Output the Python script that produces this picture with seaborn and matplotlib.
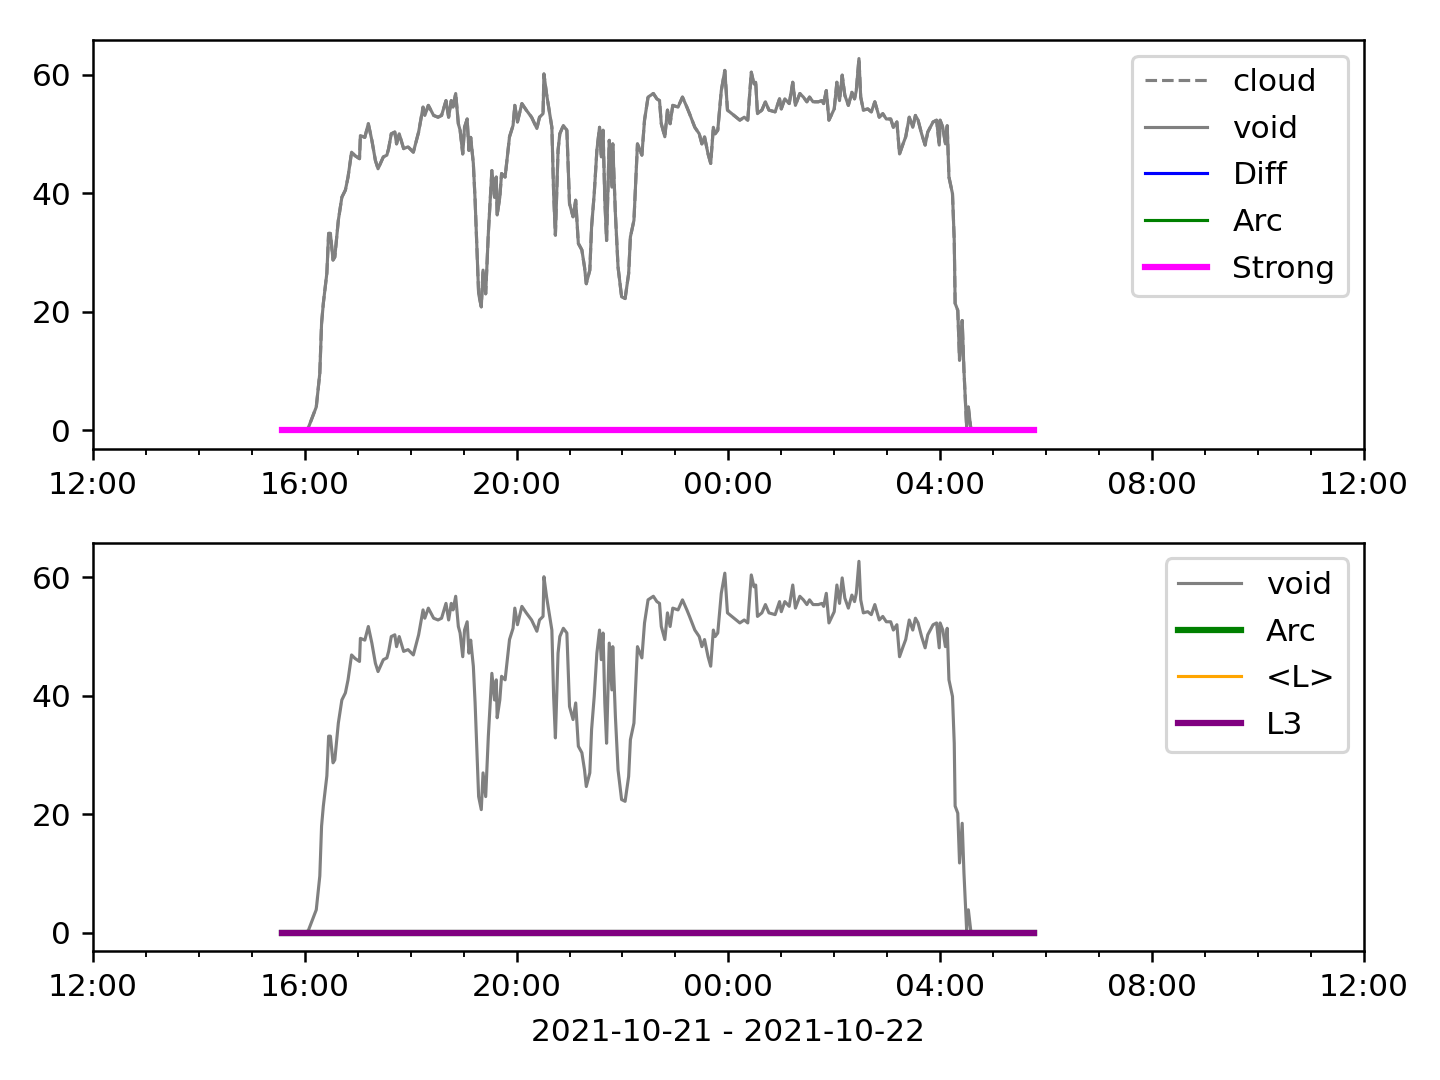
import pandas as pd
import matplotlib
matplotlib.use("Agg")
import matplotlib.pyplot as plt
import matplotlib.dates as mdates
import seaborn as sns

# minutes after 2021-10-21 12:00 and measured values of the "void" trace
void_minutes = [
    214, 240, 244, 253, 257, 259, 261, 265, 267, 269, 272, 274, 278, 282, 286, 289,
    293, 297, 302, 303, 308, 312, 316, 320, 323, 329, 333, 335, 338, 342, 344, 347,
    352, 357, 363, 369, 374, 376, 380, 386, 391, 395, 400, 403, 406, 408, 411, 414,
    416, 419, 421, 424, 426, 428, 431, 433, 435, 437, 440, 442, 445, 448, 452, 455,
    457, 458, 461, 463, 467, 472, 476, 478, 481, 486, 491, 497, 503, 506, 510, 511,
    514, 517, 520, 522, 524, 527, 529, 533, 537, 540, 544, 547, 550, 554, 557, 559,
    563, 565, 568, 571, 574, 576, 578, 580, 582, 585, 588, 589, 592, 595, 599, 603,
    607, 609, 613, 617, 622, 625, 629, 635, 639, 642, 644, 648, 651, 654, 657, 663,
    668, 673, 676, 682, 687, 690, 693, 697, 700, 703, 705, 708, 712, 716, 719, 724,
    729, 733, 738, 742, 746, 749, 751, 753, 758, 762, 766, 773, 778, 780, 784, 789,
    793, 796, 801, 805, 809, 812, 816, 822, 826, 828, 831, 834, 840, 843, 846, 849,
    852, 856, 860, 863, 865, 868, 870, 873, 878, 882, 886, 891, 895, 899, 904, 907,
    911, 914, 918, 921, 925, 929, 932, 935, 939, 943, 946, 952, 956, 959, 960, 963,
    966, 968, 970, 974, 976, 977, 980, 982, 985, 987, 990, 992, 995, 1066,
]
void_values = [
    0.0, 0.0, 0.4, 3.9, 9.6, 18.0, 21.4, 26.5, 33.2, 33.2, 28.7, 29.2, 35.4, 39.3, 40.5, 42.7,
    46.9, 46.3, 45.8, 49.7, 49.4, 51.7, 48.9, 45.5, 44.1, 46.1, 46.4, 47.5, 50.0, 50.3, 48.3, 50.0,
    47.5, 47.8, 46.9, 50.3, 54.5, 53.1, 54.8, 53.1, 52.8, 53.1, 55.6, 52.8, 55.6, 54.5, 56.8, 51.7,
    50.6, 46.6, 51.1, 52.5, 47.2, 49.4, 45.0, 38.8, 30.9, 23.0, 20.8, 27.0, 23.0, 33.2, 43.8, 39.3,
    42.7, 36.3, 39.3, 43.3, 42.7, 49.5, 51.4, 54.8, 52.0, 55.1, 54.0, 52.8, 50.9, 52.8, 53.4, 60.1,
    56.7, 53.9, 51.1, 39.9, 32.9, 47.2, 50.0, 51.4, 50.6, 38.2, 36.0, 38.8, 31.5, 30.4, 27.5, 24.7,
    27.0, 34.3, 39.9, 47.2, 51.1, 46.1, 50.6, 38.8, 32.0, 48.9, 41.0, 48.3, 36.5, 27.5, 22.5, 22.2,
    26.4, 32.6, 35.4, 48.3, 46.4, 52.3, 56.2, 56.8, 55.9, 55.6, 51.7, 49.5, 54.0, 51.7, 54.8, 54.5,
    56.2, 54.5, 53.4, 51.1, 50.0, 48.3, 49.5, 46.6, 45.0, 51.1, 50.0, 50.6, 57.3, 60.7, 54.0, 53.4,
    52.8, 52.3, 52.8, 52.3, 60.4, 58.4, 58.7, 53.4, 54.0, 55.4, 54.0, 53.7, 55.9, 54.2, 55.9, 55.1,
    58.7, 54.8, 56.8, 56.2, 55.4, 56.2, 55.4, 55.4, 55.6, 55.1, 57.3, 52.3, 54.2, 58.7, 55.6, 59.9,
    56.5, 54.8, 57.0, 55.9, 57.3, 62.7, 56.2, 54.0, 54.2, 53.7, 55.4, 52.8, 53.4, 52.5, 52.5, 51.1,
    52.0, 46.6, 48.3, 49.5, 52.8, 51.1, 53.1, 52.3, 50.0, 48.1, 50.3, 52.0, 52.3, 48.1, 52.3, 51.1,
    48.3, 51.4, 42.7, 39.9, 32.0, 21.4, 20.2, 11.8, 18.5, 10.1, 0.6, 3.9, 0.0, 0.0,
]

# flag series (all zero over the observed interval)
flag_minutes = [214, 1066]
flag_values = [0.0, 0.0]

start = pd.Timestamp("2021-10-21 12:00")
end = pd.Timestamp("2021-10-22 12:00")

void_df = pd.DataFrame({
    "time": start + pd.to_timedelta(void_minutes, unit="min"),
    "value": void_values,
})
flag_df = pd.DataFrame({
    "time": start + pd.to_timedelta(flag_minutes, unit="min"),
    "value": flag_values,
})

fig, (ax1, ax2) = plt.subplots(2, 1, figsize=(6.4, 4.8), dpi=225)

# top panel
sns.lineplot(data=void_df, x="time", y="value", ax=ax1, color="grey",
             linestyle="--", linewidth=1, label="cloud")
sns.lineplot(data=void_df, x="time", y="value", ax=ax1, color="grey",
             linewidth=1, label="void")
sns.lineplot(data=flag_df, x="time", y="value", ax=ax1, color="blue",
             linewidth=1, label="Diff")
sns.lineplot(data=flag_df, x="time", y="value", ax=ax1, color="green",
             linewidth=1, label="Arc")
sns.lineplot(data=flag_df, x="time", y="value", ax=ax1, color="magenta",
             linewidth=2, label="Strong")

# bottom panel
sns.lineplot(data=void_df, x="time", y="value", ax=ax2, color="grey",
             linewidth=1, label="void")
sns.lineplot(data=flag_df, x="time", y="value", ax=ax2, color="green",
             linewidth=2, label="Arc")
sns.lineplot(data=flag_df, x="time", y="value", ax=ax2, color="orange",
             linewidth=1, label="<L>")
sns.lineplot(data=flag_df, x="time", y="value", ax=ax2, color="purple",
             linewidth=2, label="L3")

for ax in (ax1, ax2):
    ax.set_xlim(start, end)
    ax.xaxis.set_major_locator(mdates.HourLocator(byhour=range(0, 24, 4)))
    ax.xaxis.set_minor_locator(mdates.HourLocator())
    ax.xaxis.set_major_formatter(mdates.DateFormatter("%H:%M"))
    ax.set_ylabel("")
    ax.set_xlabel("")
    ax.legend(loc="upper right", labelspacing=0.565)

ax2.set_xlabel("2021-10-21 - 2021-10-22", labelpad=5)

fig.subplots_adjust(left=0.0646, right=0.947, top=0.963, bottom=0.119, hspace=0.23)
fig.savefig("out.png")
